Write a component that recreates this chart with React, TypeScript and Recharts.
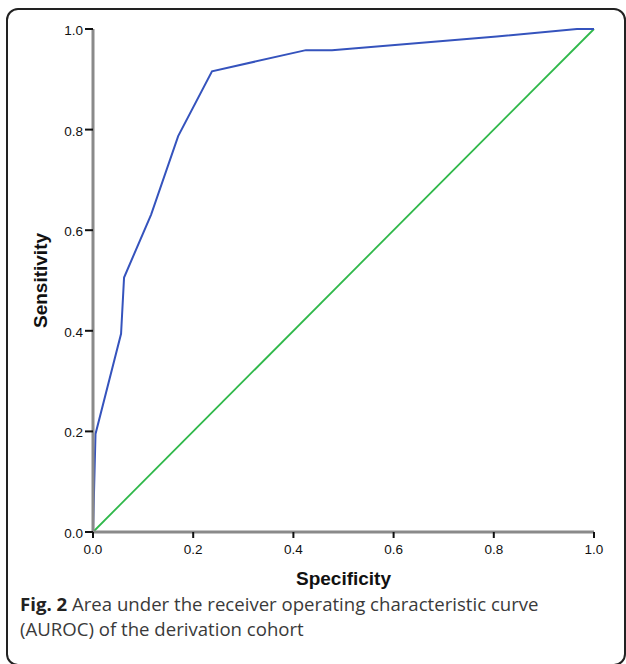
import React from 'react'
import { LineChart, Line, XAxis, YAxis, Label, ReferenceLine } from 'recharts'

// ROC points
const specificity = [0, 0.005, 0.056, 0.062, 0.116, 0.17, 0.2375, 0.425, 0.477, 0.806, 0.966, 1.0]
const sensitivity = [0, 0.195, 0.394, 0.506, 0.631, 0.787, 0.916, 0.958, 0.958, 0.985, 1.0, 1.0]

const refX = [0, 1]
const refY = [0, 1]

const ticks = [0, 0.2, 0.4, 0.6, 0.8, 1.0]

const rocData = specificity.map((x, i) => ({ x, y: sensitivity[i] }))
const refData = refX.map((x, i) => ({ x, y: refY[i] }))

const FONT = '"Liberation Sans", Arial, sans-serif'

const XTick = (props: any) => {
  const { x, y, payload } = props
  return (
    <text x={x} y={y + 14} textAnchor="middle" fontFamily={FONT} fontSize={13.5} fill="#111">
      {Number(payload.value).toFixed(1)}
    </text>
  )
}

const YTick = (props: any) => {
  const { x, y, payload } = props
  return (
    <text x={x} y={y + 6} textAnchor="end" fontFamily={FONT} fontSize={13.5} fill="#111">
      {Number(payload.value).toFixed(1)}
    </text>
  )
}

const YTitle = (props: any) => {
  const { viewBox } = props
  const cx = viewBox.x + 40
  const cy = viewBox.y + viewBox.height / 2
  return (
    <text x={cx} y={cy} transform={`rotate(-90 ${cx} ${cy})`} textAnchor="middle" dominantBaseline="central"
      fontFamily={FONT} fontSize={19} fontWeight={700} fill="#111">
      Sensitivity
    </text>
  )
}

const XTitle = (props: any) => {
  const { viewBox } = props
  const cx = viewBox.x + viewBox.width / 2
  const cy = viewBox.y + 46
  return (
    <text x={cx} y={cy} textAnchor="middle" dominantBaseline="central"
      fontFamily={FONT} fontSize={19} fontWeight={700} fill="#111">
      Specificity
    </text>
  )
}

const App = () => {
  return (
    <div style={{ position: 'fixed', left: 0, top: 0, width: 626, height: 664, overflow: 'hidden', background: '#fff' }}>
      <div style={{ position: 'absolute', left: 6, top: 8, width: 620, height: 658, boxSizing: 'border-box',
        border: '2px solid #222', borderRadius: 12 }} />
      <div style={{ position: 'absolute', left: 0, top: 0 }}>
        <LineChart width={626} height={600} margin={{ top: 29, right: 32, left: 0, bottom: 0 }}>
          <XAxis type="number" dataKey="x" domain={[0, 1]} ticks={ticks}
            height={68} tick={<XTick />} tickSize={6} tickMargin={2}
            axisLine={{ stroke: '#8a8a8a', strokeWidth: 3 }} tickLine={{ stroke: '#111', strokeWidth: 2 }}>
            <Label content={<XTitle />} />
          </XAxis>
          <YAxis type="number" dataKey="y" domain={[0, 1]} ticks={ticks}
            width={93} tick={<YTick />} tickSize={8} tickMargin={2}
            axisLine={{ stroke: '#8a8a8a', strokeWidth: 3 }} tickLine={{ stroke: '#111', strokeWidth: 2 }}>
            <Label content={<YTitle />} />
          </YAxis>
          <ReferenceLine y={0} stroke="#e6e6e6" strokeWidth={1} />
          <ReferenceLine x={0} stroke="#e6e6e6" strokeWidth={1} />
          <Line data={refData} dataKey="y" type="linear" stroke="#2fb84a" strokeWidth={1.8} dot={false} isAnimationActive={false} />
          <Line data={rocData} dataKey="y" type="linear" stroke="#3553bd" strokeWidth={2} dot={false} isAnimationActive={false} />
        </LineChart>
      </div>
      <div style={{ position: 'absolute', left: 20, top: 591, fontFamily: '"Open Sans", sans-serif', fontSize: 18.6,
        lineHeight: '25px', color: '#3a3a3a', whiteSpace: 'nowrap' }}>
        <b style={{ color: '#222' }}>Fig. 2</b> Area under the receiver operating characteristic curve<br />
        (AUROC) of the derivation cohort
      </div>
    </div>
  )
}

export default App
